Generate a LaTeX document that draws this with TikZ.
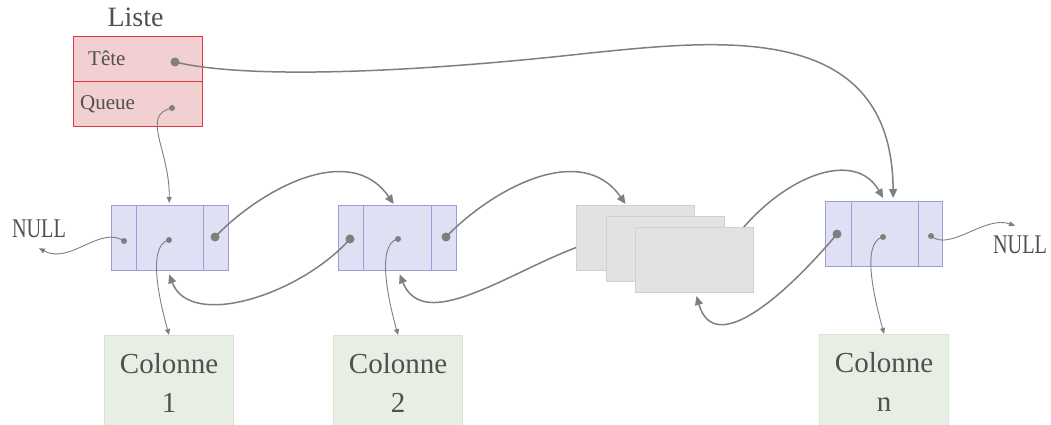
\documentclass[tikz,border=0pt]{standalone}
\usepackage{fontspec}
\setmainfont{Liberation Serif}
\usepackage{graphicx}
\usetikzlibrary{arrows.meta}
\definecolor{txtgray}{HTML}{505050}
\definecolor{linkgray}{HTML}{7F7F7F}
\definecolor{headfill}{HTML}{F2CFD1}
\definecolor{headline}{HTML}{D93A40}
\definecolor{cellfill}{HTML}{DFE0F3}
\definecolor{cellline}{HTML}{9B9DDB}
\definecolor{ghostfill}{HTML}{E2E2E2}
\definecolor{ghostline}{HTML}{D0D0D0}
\definecolor{colfill}{HTML}{E7EFE4}
\definecolor{colline}{HTML}{D5E7CF}
\begin{document}
\begin{tikzpicture}[x=1pt,y=1pt,
  every node/.style={text=txtgray},
  headbox/.style={draw=headline, fill=headfill, line width=1.2pt, minimum width=129pt, minimum height=45pt, inner sep=0pt, anchor=north west},
  cell/.style={draw=cellline, fill=cellfill, line width=1.3pt, minimum height=65pt, inner sep=0pt, anchor=north west},
  ghost/.style={draw=ghostline, fill=ghostfill, line width=1pt, minimum width=118pt, minimum height=65pt, inner sep=0pt, anchor=north west},
  colbox/.style={draw=colline, fill=colfill, line width=1.2pt, minimum width=129pt, minimum height=94pt, inner sep=0pt, anchor=north west, align=center, font=\fontsize{29}{39}\selectfont},
  bigdot/.style={circle, fill=linkgray, inner sep=0pt, minimum size=9pt},
  smalldot/.style={circle, fill=linkgray, inner sep=0pt, minimum size=6pt},
  link/.style={draw=linkgray, line width=1.5pt, -{Triangle[length=9pt,width=8pt]}},
  thinlink/.style={draw=linkgray, line width=0.9pt, -{Triangle[length=6pt,width=5pt]}},
  nulltxt/.style={font=\fontsize{27}{30}\selectfont, inner sep=0pt}]
\useasboundingbox (0,0) rectangle (1051,-425);
\clip (0,0) rectangle (1051,-425);

% list header
\node[font=\fontsize{28}{32}\selectfont, anchor=base, inner sep=0pt] (liste) at (135.5,-27) {Liste};
\node[headbox] (tete) at (73,-36) {};
\node[headbox] (queue) at (73,-81) {};
\node[font=\fontsize{21}{24}\selectfont, anchor=base west, inner sep=0pt] (teteLbl) at (88,-66) {Tête};
\node[font=\fontsize{21}{24}\selectfont, anchor=base west, inner sep=0pt] (queueLbl) at (80,-110) {Queue};

% first element
\node[cell, minimum width=25pt] (a1) at (111,-205) {};
\node[cell, minimum width=67pt] (b1) at (136,-205) {};
\node[cell, minimum width=25pt] (c1) at (203,-205) {};
% second element
\node[cell, minimum width=25pt] (a2) at (338,-205) {};
\node[cell, minimum width=68pt] (b2) at (363,-205) {};
\node[cell, minimum width=25pt] (c2) at (431,-205) {};
% last element
\node[cell, minimum width=26pt] (an) at (825,-201) {};
\node[cell, minimum width=67pt] (bn) at (851,-201) {};
\node[cell, minimum width=24pt] (cn) at (918,-201) {};

% columns
\node[colbox] (col1) at (104,-335) {Colonne\\1};
\node[colbox] (col2) at (333,-335) {Colonne\\2};
\node[colbox] (coln) at (819,-334) {Colonne\\n};

% NULL ends
\node[nulltxt] (nullL) at (39,-229) {\scalebox{0.75}[1]{NULL}};
\node[nulltxt] (nullR) at (1020,-245) {\scalebox{0.75}[1]{NULL}};

% pointer dots
\node[bigdot] (dTete) at (175,-62) {};
\node[smalldot] (dQueue) at (172,-108) {};
\node[smalldot] (d1l) at (124,-241) {};
\node[smalldot] (d1m) at (169,-240) {};
\node[bigdot] (d1r) at (215,-237) {};
\node[bigdot] (d2l) at (350,-239) {};
\node[smalldot] (d2m) at (398,-239) {};
\node[bigdot] (d2r) at (446,-237) {};
\node[bigdot] (dnl) at (837,-234) {};
\node[smalldot] (dnm) at (883,-237) {};
\node[smalldot] (dnr) at (931,-236) {};

% links hidden behind the stacked middle elements
\coordinate (gAc) at (635,-237.5);
\coordinate (gCc) at (715,-270);
\draw[link] (gAc) .. controls (565,-225) and (430,-350) .. ([xshift=2pt,yshift=-3pt]b2.south);
\draw[link] (gCc) .. controls (755,-190) and (850,-140) .. ([xshift=-2pt,yshift=3pt]bn.north);

% stacked middle elements
\node[ghost] (gA) at (576,-205) {};
\node[ghost] (gB) at (606,-216) {};
\node[ghost] (gC) at (635,-227) {};

% head and tail pointers
\draw[link] (dTete.center) .. controls (250,-80) and (420,-72) .. (590,-53)
  .. controls (720,-40) and (892,-20) .. ([xshift=8pt,yshift=3pt]bn.north);
\draw[thinlink] (dQueue.center) .. controls (140,-115) and (170,-150) .. ([xshift=-1pt,yshift=2pt]b1.north);

% next pointers
\draw[link] (d1r.center) .. controls (260,-190) and (350,-140) .. ([xshift=-4pt,yshift=1pt]b2.north);
\draw[link] (d2r.center) .. controls (491,-190) and (581,-140) .. ([xshift=-10pt,yshift=1pt]gA.north);
% previous pointers
\draw[link] (d2l.center) .. controls (300,-295) and (190,-330) .. ([xshift=-1pt,yshift=-3pt]b1.south);
\draw[link] (dnl.center) .. controls (790,-290) and (715,-360) .. ([xshift=2pt,yshift=-3pt]gC.south);

% NULL pointers
\draw[thinlink] (d1l.center) .. controls (100,-225) and (70,-265) .. ([yshift=-10pt]nullL.south);
\draw[thinlink] (dnr.center) .. controls (950,-252) and (985,-215) .. ([xshift=-5pt,yshift=10pt]nullR.north);

% data pointers
\draw[thinlink] (d1m.center) .. controls (145,-245) and (162,-310) .. (col1.north);
\draw[thinlink] (d2m.center) .. controls (374,-244) and (391,-310) .. (col2.north);
\draw[thinlink] (dnm.center) .. controls (859,-242) and (877,-308) .. (coln.north);
\end{tikzpicture}
\end{document}
